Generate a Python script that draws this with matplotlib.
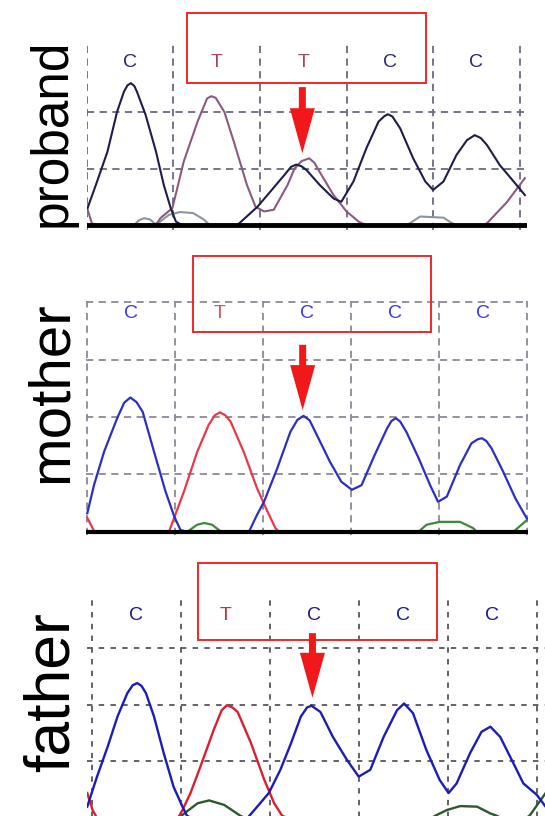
import matplotlib
matplotlib.use("Agg")
import matplotlib.pyplot as plt
from matplotlib.patches import Rectangle

plt.rcParams['font.family'] = ['Liberation Sans', 'DejaVu Sans']

# base calls shown above each panel (one per cell)
proband_bases = ['C', 'T', 'T', 'C', 'C']
mother_bases = ['C', 'T', 'C', 'C', 'C']
father_bases = ['C', 'T', 'C', 'C', 'C']
panel_labels = ['proband', 'mother', 'father']

# traces: x in base cells, y in grid units
proband_c_x = [0.01, 0.12, 0.24, 0.35, 0.43, 0.47, 0.51, 0.55, 0.58, 0.68, 0.80, 0.89, 0.97, 1.03, 1.10,
               1.74, 1.97, 2.12, 2.28, 2.36, 2.42, 2.48, 2.54, 2.69, 2.85, 2.94, 3.08, 3.23, 3.37, 3.44,
               3.48, 3.53, 3.62, 3.77, 3.91, 4.00, 4.12, 4.27, 4.39, 4.48, 4.55, 4.62, 4.77, 4.93, 5.06]
proband_c_y = [0.30, 0.77, 1.30, 2.00, 2.36, 2.47, 2.51, 2.46, 2.36, 1.95, 1.30, 0.71, 0.30, 0.06, 0.0,
               0.0, 0.32, 0.59, 0.88, 1.03, 1.07, 1.04, 0.97, 0.71, 0.47, 0.41, 0.77, 1.36, 1.83, 1.93,
               1.96, 1.92, 1.71, 1.18, 0.77, 0.62, 0.77, 1.24, 1.50, 1.59, 1.54, 1.42, 1.06, 0.77, 0.53]
proband_t_x = [0.0, 0.06, 0.12, 0.80, 0.85, 0.99, 1.12, 1.28, 1.39, 1.44, 1.49, 1.59, 1.70, 1.85, 1.95,
               2.05, 2.16, 2.32, 2.40, 2.48, 2.57, 2.63, 2.69, 2.85, 3.00, 3.14, 3.22, 4.60, 4.64, 4.85, 5.06]
proband_t_y = [0.32, 0.03, 0.0, 0.0, 0.12, 0.30, 1.12, 1.83, 2.24, 2.28, 2.25, 2.00, 1.47, 0.71, 0.32,
               0.24, 0.27, 0.71, 1.00, 1.13, 1.18, 1.10, 0.94, 0.53, 0.24, 0.06, 0.0, 0.0, 0.06, 0.40, 0.83]
proband_g_x = [0.55, 0.60, 0.66, 0.73, 0.79, 0.84, 0.95, 1.08, 1.23, 1.35, 1.42, 3.70, 3.78, 3.85, 4.12, 4.20, 4.26]
proband_g_y = [0.0, 0.08, 0.12, 0.10, 0.02, 0.05, 0.18, 0.23, 0.21, 0.10, 0.0, 0.0, 0.08, 0.15, 0.13, 0.05, 0.0]

mother_c_x = [0.0, 0.076, 0.19, 0.34, 0.42, 0.49, 0.56, 0.63, 0.76, 0.89, 0.99, 1.06, 1.12, 1.84, 1.93,
              2.01, 2.16, 2.31, 2.39, 2.46, 2.53, 2.61, 2.76, 2.89, 3.01, 3.12, 3.27, 3.41, 3.46, 3.51,
              3.56, 3.63, 3.77, 3.90, 3.99, 4.09, 4.24, 4.37, 4.44, 4.49, 4.54, 4.60, 4.73, 4.87, 5.0]
mother_c_y = [0.32, 0.81, 1.39, 1.98, 2.25, 2.34, 2.26, 2.09, 1.39, 0.70, 0.26, 0.03, 0.0, 0.0, 0.29,
              0.52, 1.10, 1.74, 1.95, 2.02, 1.94, 1.69, 1.22, 0.87, 0.73, 0.81, 1.34, 1.80, 1.93, 1.98,
              1.92, 1.74, 1.28, 0.81, 0.52, 0.61, 1.16, 1.54, 1.61, 1.63, 1.58, 1.45, 1.05, 0.58, 0.23]
mother_t_x = [0.0, 0.04, 0.08, 0.93, 1.00, 1.10, 1.25, 1.38, 1.45, 1.51, 1.57, 1.63, 1.78, 1.93, 2.05, 2.14, 2.18]
mother_t_y = [0.24, 0.12, 0.0, 0.0, 0.29, 0.70, 1.39, 1.86, 2.03, 2.08, 2.03, 1.92, 1.39, 0.76, 0.35, 0.06, 0.0]
mother_g_x = [1.14, 1.25, 1.33, 1.42, 1.52, 3.77, 3.86, 4.01, 4.24, 4.39, 4.43, 4.85, 5.0]
mother_g_y = [0.0, 0.12, 0.15, 0.12, 0.0, 0.0, 0.12, 0.17, 0.17, 0.06, 0.0, 0.0, 0.20]

father_c_x = [-0.05, 0.06, 0.18, 0.29, 0.40, 0.46, 0.51, 0.56, 0.61, 0.70, 0.81, 0.92, 1.02, 1.07, 1.12,
              1.75, 1.86, 1.99, 2.12, 2.24, 2.35, 2.42, 2.47, 2.57, 2.71, 2.87, 3.00, 3.13, 3.28, 3.43,
              3.51, 3.61, 3.76, 3.91, 4.01, 4.10, 4.25, 4.38, 4.48, 4.59, 4.74, 4.85, 5.00, 5.10]
father_c_y = [0.20, 0.73, 1.26, 1.79, 2.20, 2.34, 2.38, 2.33, 2.20, 1.79, 1.14, 0.55, 0.20, 0.04, 0.0,
              0.0, 0.20, 0.44, 0.85, 1.32, 1.79, 1.95, 1.98, 1.87, 1.43, 1.02, 0.73, 0.85, 1.43, 1.90,
              2.02, 1.85, 1.20, 0.67, 0.44, 0.61, 1.14, 1.52, 1.61, 1.43, 0.96, 0.61, 0.41, 0.20]
father_t_x = [-0.05, 0.01, 0.06, 0.97, 1.02, 1.11, 1.22, 1.37, 1.46, 1.52, 1.58, 1.64, 1.79, 1.94, 2.05, 2.14, 2.20]
father_t_y = [0.44, 0.14, 0.0, 0.0, 0.14, 0.44, 0.90, 1.55, 1.90, 1.99, 1.95, 1.87, 1.32, 0.67, 0.26, 0.04, 0.0]
father_g_x = [0.98, 1.04, 1.19, 1.32, 1.49, 1.67, 1.72, 3.82, 3.86, 3.99, 4.14, 4.33, 4.48, 4.55, 4.60, 4.88, 4.92, 5.10]
father_g_y = [0.0, 0.08, 0.26, 0.31, 0.23, 0.04, 0.0, 0.0, 0.04, 0.14, 0.21, 0.20, 0.08, 0.04, 0.0, 0.0, 0.04, 0.44]

W, H = 545, 816
fig = plt.figure(figsize=(W / 100, H / 100), dpi=100)


def make_ax(x0, xu, xlim, y0, yu, ylim):
    # x0/y0: pixel of data origin, xu/yu: pixels per unit
    left = x0 + xlim[0] * xu
    right = x0 + xlim[1] * xu
    bottom = y0 - ylim[0] * yu
    top = y0 - ylim[1] * yu
    ax = fig.add_axes([left / W, 1 - bottom / H, (right - left) / W, (bottom - top) / H])
    ax.set_xlim(*xlim)
    ax.set_ylim(*ylim)
    ax.set_axis_off()
    return ax


def draw_panel(ax, bases, traces, cols, hgrid, gridcol, dash, letter_y, letter_cols,
               box, arrow_x, arrow_y, lw, base_lw):
    for v in range(0, 6):
        ax.axvline(v, color=gridcol, lw=1.3, ls=dash, zorder=1)
    for h in hgrid:
        ax.axhline(h, color=gridcol, lw=1.3, ls=dash, zorder=1)
    for (tx, ty), c in zip(traces, cols):
        ax.plot(tx, ty, color=c, lw=lw, zorder=3, solid_joinstyle='round')
    ax.axhline(0, color='black', lw=base_lw, zorder=4)
    for i, b in enumerate(bases):
        ax.text(i + 0.5, letter_y, b, ha='center', va='center', fontsize=14,
                color=letter_cols[b], zorder=5)
    ax.add_patch(Rectangle((box[0], box[2]), box[1] - box[0], box[3] - box[2],
                           fill=False, edgecolor='#f02828', lw=1.4, clip_on=False, zorder=6))
    ax.annotate('', xy=(arrow_x, arrow_y[1]), xytext=(arrow_x, arrow_y[0]),
                arrowprops=dict(arrowstyle='simple,head_length=0.9,head_width=0.5,tail_width=0.14',
                                mutation_scale=36, color='#f01818', lw=0, shrinkA=0, shrinkB=0),
                annotation_clip=False, zorder=7)


ax1 = make_ax(86.7, 86.6, (0.0, 5.09), 225.0, 56.5, (-0.08, 3.22))
draw_panel(ax1, proband_bases,
           [(proband_g_x, proband_g_y), (proband_t_x, proband_t_y), (proband_c_x, proband_c_y)],
           ['#8a969c', '#8a5a80', '#1e1c4c'], [1, 2], '#6a6a80', (0, (4, 3)), 2.88,
           {'C': '#2a2a70', 'T': '#a0485a'}, (1.16, 3.92, 2.51, 3.75), 2.49, (2.44, 1.27), 1.5, 3.5)

ax2 = make_ax(87.3, 87.9, (-0.01, 5.01), 531.6, 57.3, (-0.06, 4.03))
draw_panel(ax2, mother_bases,
           [(mother_g_x, mother_g_y), (mother_t_x, mother_t_y), (mother_c_x, mother_c_y)],
           ['#3a8a3a', '#e8384c', '#2e2ec4'], [1, 2, 3, 4], '#8a8a98', (0, (4, 3)), 3.8,
           {'C': '#3a3ae0', 'T': '#e05050'}, (1.20, 3.91, 3.48, 4.81), 2.45, (3.26, 2.12), 1.6, 3.0)

ax3 = make_ax(91.7, 89.0, (-0.05, 5.10), 818.0, 56.7, (-0.1, 3.88))
draw_panel(ax3, father_bases,
           [(father_g_x, father_g_y), (father_t_x, father_t_y), (father_c_x, father_c_y)],
           ['#2a5a2a', '#d82030', '#1c1cb8'], [1, 2, 3], '#555560', (0, (3, 3.5)), 3.58,
           {'C': '#1a1a90', 'T': '#cc3030'}, (1.19, 3.88, 3.14, 4.50), 2.48, (3.26, 2.12), 1.7, 3.0)

label_y = [133, 392, 692]
label_size = [37, 42, 45]
for lab, yy, fs in zip(panel_labels, label_y, label_size):
    fig.text(52 / W, 1 - yy / H, lab, rotation=90, ha='center', va='center', fontsize=fs, color='black')

fig.savefig('out.png', dpi=100)
